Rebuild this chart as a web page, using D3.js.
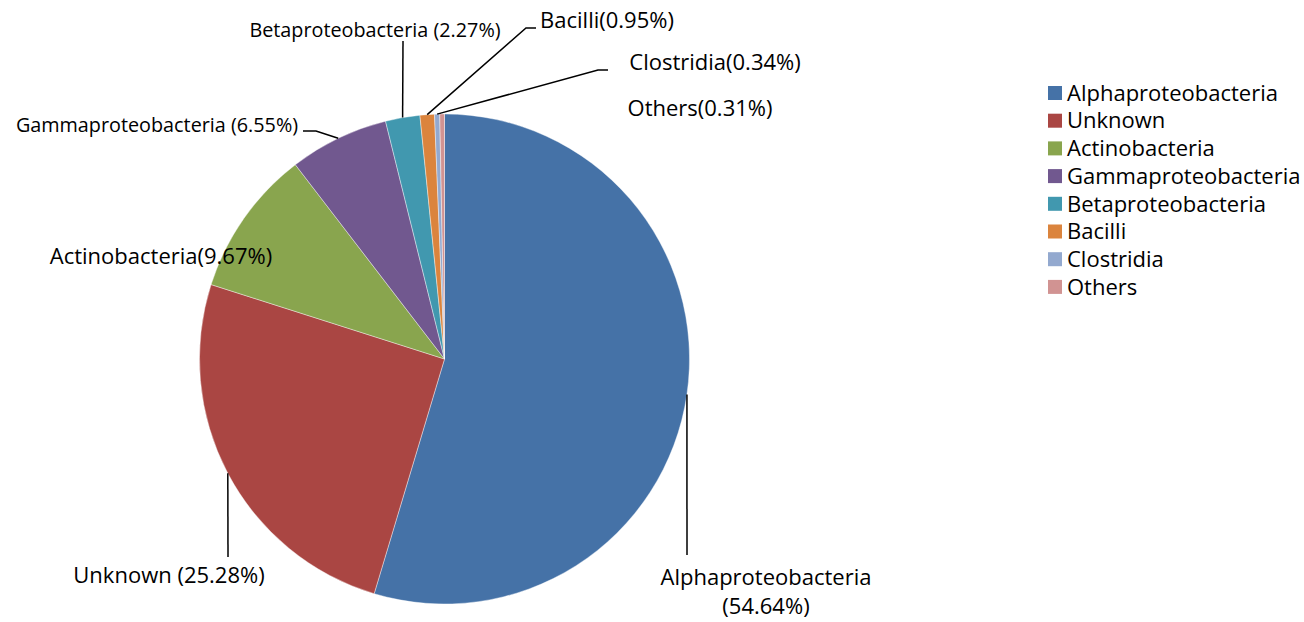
<!DOCTYPE html>
<html>
<head>
<meta charset="utf-8">
<script src="https://cdn.jsdelivr.net/npm/d3@7"></script>
<style>
  body { margin: 0; background: #fff; }
  text { font-family: "Open Sans", Lato, sans-serif; fill: #000; }
</style>
</head>
<body>
<script>
// data
const categories = ['Alphaproteobacteria', 'Unknown', 'Actinobacteria', 'Gammaproteobacteria',
  'Betaproteobacteria', 'Bacilli', 'Clostridia', 'Others'];
const values = [54.64, 25.28, 9.67, 6.55, 2.27, 0.95, 0.34, 0.31];
const labelTexts = [
  ['Alphaproteobacteria', '(54.64%)'],
  ['Unknown (25.28%)'],
  ['Actinobacteria(9.67%)'],
  ['Gammaproteobacteria (6.55%)'],
  ['Betaproteobacteria (2.27%)'],
  ['Bacilli(0.95%)'],
  ['Clostridia(0.34%)'],
  ['Others(0.31%)']
];
const colors = ['#4572A7', '#AA4643', '#89A54E', '#71588F', '#4198AF', '#DB843D', '#93A9CF', '#D19392'];

// label layout: text centre, font size, and leader line bend points (null = no line)
const labelLayout = [
  { x: 766, y: 577, size: 22, bends: [[687, 555]] },
  { x: 169, y: 575, size: 22, bends: [[228, 557]] },
  { x: 161, y: 256, size: 22, bends: null },
  { x: 157, y: 125, size: 19.8, bends: [[316, 131], [303, 131]] },
  { x: 375, y: 30, size: 19.8, bends: [[403, 41]] },
  { x: 607, y: 20, size: 22, bends: [[526, 28], [536, 28]] },
  { x: 715, y: 62, size: 22, bends: [[598, 70], [608, 70]] },
  { x: 700, y: 108, size: 22, bends: null }
];

const w = 1304, h = 622;
const cx = 444.5, cy = 359, r = 245;

const svg = d3.select('body').append('svg')
  .attr('width', w)
  .attr('height', h);

const pie = d3.pie().sort(null).value(d => d)(values);
const arc = d3.arc().innerRadius(0).outerRadius(r);
const edge = d3.arc().innerRadius(r).outerRadius(r);

const g = svg.append('g').attr('transform', `translate(${cx},${cy})`);

g.selectAll('path.slice')
  .data(pie)
  .join('path')
  .attr('class', 'slice')
  .attr('d', arc)
  .attr('fill', (d, i) => colors[i])
  .attr('stroke', '#fff')
  .attr('stroke-width', 0.4);

// leader lines
pie.forEach((d, i) => {
  const lay = labelLayout[i];
  if (!lay.bends) return;
  const [ex, ey] = edge.centroid(d);
  const pts = [[cx + ex, cy + ey]].concat(lay.bends);
  svg.append('path')
    .attr('d', d3.line()(pts))
    .attr('fill', 'none')
    .attr('stroke', '#000')
    .attr('stroke-width', 1.5);
});

// labels
labelTexts.forEach((lines, i) => {
  const lay = labelLayout[i];
  const t = svg.append('text')
    .attr('text-anchor', 'middle')
    .attr('font-size', lay.size);
  lines.forEach((s, j) => {
    t.append('tspan')
      .attr('x', lay.x)
      .attr('y', lay.y + j * 29)
      .attr('dy', '0.35em')
      .text(s);
  });
});

// legend
const legend = svg.append('g').attr('transform', 'translate(1048,93)');
const item = legend.selectAll('g')
  .data(categories)
  .join('g')
  .attr('transform', (d, i) => `translate(0,${i * 27.7})`);
item.append('rect')
  .attr('x', 0).attr('y', -7)
  .attr('width', 14).attr('height', 14)
  .attr('fill', (d, i) => colors[i]);
item.append('text')
  .attr('x', 19)
  .attr('dy', '0.35em')
  .attr('font-size', 22)
  .text(d => d);
</script>
</body>
</html>
